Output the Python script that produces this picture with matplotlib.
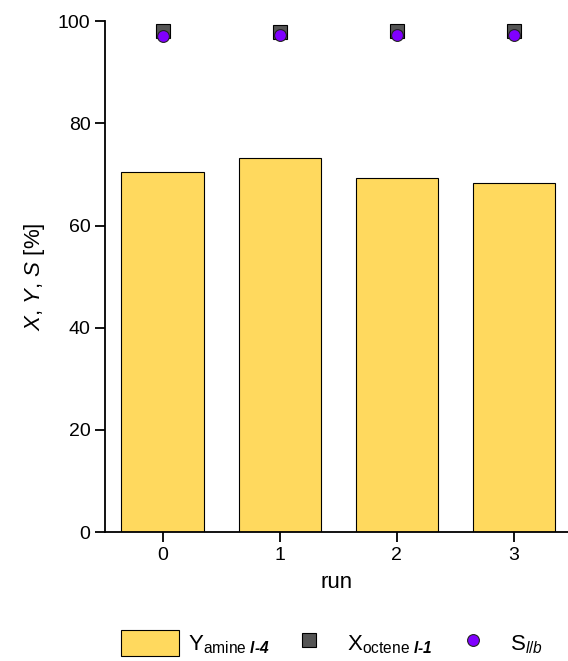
import numpy as np
import matplotlib
matplotlib.use("Agg")
from matplotlib import pyplot as plt

# Data
runs = [0, 1, 2, 3]
yield_amine = [70.4, 73.2, 69.3, 68.3]
conv_octene = [98.0, 97.8, 98.0, 98.0]
sel_lb = [97.0, 97.3, 97.2, 97.2]

plt.rcParams['font.family'] = ['Liberation Sans', 'DejaVu Sans']
plt.rcParams['mathtext.fontset'] = 'custom'
plt.rcParams['mathtext.rm'] = 'Liberation Sans'
plt.rcParams['mathtext.it'] = 'Liberation Sans:italic'
plt.rcParams['mathtext.bf'] = 'Liberation Sans:bold'
plt.rcParams['mathtext.bfit'] = 'Liberation Sans:bold:italic'

fig = plt.figure(figsize=(5.68, 6.61), dpi=100)
ax = fig.add_axes([0.185, 0.195, 0.815, 0.773])

x = np.array(runs)
bars = ax.bar(x, yield_amine, width=0.7, color='#FFD95E', edgecolor='black', linewidth=0.8,
              label=r'Y$_{\mathrm{amine}\ \mathbfit{l‐4}}$', zorder=2)
sq, = ax.plot(x, conv_octene, 's', ms=10, color='#555555', mec='black', mew=0.8,
              label=r'X$_{\mathrm{octene}\ \mathbfit{l‐1}}$', zorder=3)
ci, = ax.plot(x, sel_lb, 'o', ms=8.5, color='#8000FF', mec='#222222', mew=0.8,
              label=r'S$_{\mathit{l/b}}$', zorder=4)

ax.set_xlim(-0.49, 3.46)
ax.set_ylim(0, 100)
ax.set_xticks(runs)
ax.set_yticks([0, 20, 40, 60, 80, 100])
ax.spines['top'].set_visible(False)
ax.spines['right'].set_visible(False)
ax.spines['left'].set_linewidth(1.3)
ax.spines['bottom'].set_linewidth(1.3)
ax.tick_params(direction='out', length=7, width=1.3, labelsize=14)
ax.set_xlabel('run', fontsize=16, labelpad=6)
ax.set_ylabel(r'$X$, $Y$, $S$ [%]', fontsize=16, labelpad=8)

fig.legend(handles=[bars, sq, ci], loc='center', bbox_to_anchor=(0.585, 0.027), ncol=3,
           frameon=False, fontsize=16, handlelength=2.6, handleheight=1.4,
           columnspacing=0.5, handletextpad=0.4)

fig.savefig('out.png', dpi=100)
